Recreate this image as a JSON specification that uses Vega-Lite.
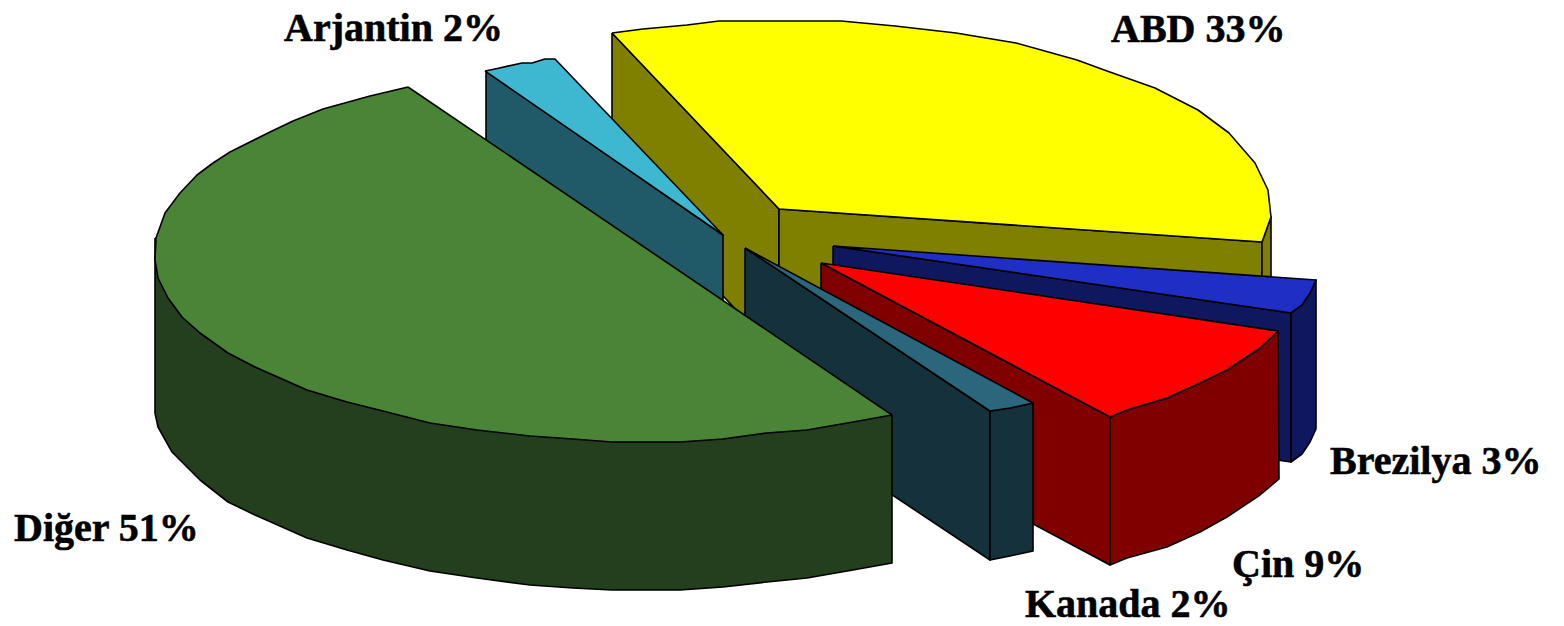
{"$schema":"https://vega.github.io/schema/vega-lite/v6.json","width":1564,"height":626,"padding":0,"autosize":{"type":"none"},"background":"white","view":{"stroke":null},
"datasets":{"faces":[
{"f":"ABD sol","i":1,"x":612,"y":33},{"f":"ABD sol","i":2,"x":779,"y":209},{"f":"ABD sol","i":3,"x":779,"y":355},{"f":"ABD sol","i":4,"x":612,"y":179},{"f":"ABD sol","i":5,"x":612,"y":33},
{"f":"ABD ön","i":1,"x":779,"y":209},{"f":"ABD ön","i":2,"x":1262,"y":242},{"f":"ABD ön","i":3,"x":1262,"y":388},{"f":"ABD ön","i":4,"x":779,"y":355},{"f":"ABD ön","i":5,"x":779,"y":209},
{"f":"ABD sağ","i":1,"x":1262,"y":242},{"f":"ABD sağ","i":2,"x":1271,"y":217},{"f":"ABD sağ","i":3,"x":1271,"y":363},{"f":"ABD sağ","i":4,"x":1262,"y":388},{"f":"ABD sağ","i":5,"x":1262,"y":242},
{"f":"ABD üst","i":1,"x":612,"y":33},{"f":"ABD üst","i":2,"x":643,"y":29},{"f":"ABD üst","i":3,"x":687,"y":25},{"f":"ABD üst","i":4,"x":719,"y":21},{"f":"ABD üst","i":5,"x":841,"y":21},{"f":"ABD üst","i":6,"x":895,"y":26},{"f":"ABD üst","i":7,"x":956,"y":33},{"f":"ABD üst","i":8,"x":1016,"y":43},{"f":"ABD üst","i":9,"x":1077,"y":60},{"f":"ABD üst","i":10,"x":1107,"y":71},{"f":"ABD üst","i":11,"x":1155,"y":88},{"f":"ABD üst","i":12,"x":1198,"y":110},{"f":"ABD üst","i":13,"x":1229,"y":133},{"f":"ABD üst","i":14,"x":1255,"y":163},{"f":"ABD üst","i":15,"x":1268,"y":190},{"f":"ABD üst","i":16,"x":1271,"y":217},{"f":"ABD üst","i":17,"x":1262,"y":242},{"f":"ABD üst","i":18,"x":779,"y":209},{"f":"ABD üst","i":19,"x":612,"y":33},
{"f":"Brezilya sol","i":1,"x":833,"y":246},{"f":"Brezilya sol","i":2,"x":1291,"y":313},{"f":"Brezilya sol","i":3,"x":1291,"y":462},{"f":"Brezilya sol","i":4,"x":833,"y":395},{"f":"Brezilya sol","i":5,"x":833,"y":246},
{"f":"Brezilya sağ","i":1,"x":1291,"y":313},{"f":"Brezilya sağ","i":2,"x":1302,"y":305},{"f":"Brezilya sağ","i":3,"x":1310,"y":293},{"f":"Brezilya sağ","i":4,"x":1316,"y":280},{"f":"Brezilya sağ","i":5,"x":1316,"y":429},{"f":"Brezilya sağ","i":6,"x":1310,"y":442},{"f":"Brezilya sağ","i":7,"x":1302,"y":454},{"f":"Brezilya sağ","i":8,"x":1291,"y":462},{"f":"Brezilya sağ","i":9,"x":1291,"y":313},
{"f":"Brezilya üst","i":1,"x":833,"y":246},{"f":"Brezilya üst","i":2,"x":1316,"y":280},{"f":"Brezilya üst","i":3,"x":1310,"y":293},{"f":"Brezilya üst","i":4,"x":1302,"y":305},{"f":"Brezilya üst","i":5,"x":1291,"y":313},{"f":"Brezilya üst","i":6,"x":833,"y":246},
{"f":"Çin sol","i":1,"x":821,"y":263},{"f":"Çin sol","i":2,"x":1110,"y":417},{"f":"Çin sol","i":3,"x":1110,"y":565},{"f":"Çin sol","i":4,"x":821,"y":411},{"f":"Çin sol","i":5,"x":821,"y":263},
{"f":"Çin ön","i":1,"x":1110,"y":417},{"f":"Çin ön","i":2,"x":1127,"y":410},{"f":"Çin ön","i":3,"x":1167,"y":398},{"f":"Çin ön","i":4,"x":1200,"y":383},{"f":"Çin ön","i":5,"x":1227,"y":370},{"f":"Çin ön","i":6,"x":1260,"y":348},{"f":"Çin ön","i":7,"x":1278,"y":331},{"f":"Çin ön","i":8,"x":1279,"y":479},{"f":"Çin ön","i":9,"x":1260,"y":495},{"f":"Çin ön","i":10,"x":1227,"y":517},{"f":"Çin ön","i":11,"x":1200,"y":532},{"f":"Çin ön","i":12,"x":1167,"y":547},{"f":"Çin ön","i":13,"x":1127,"y":558},{"f":"Çin ön","i":14,"x":1110,"y":565},{"f":"Çin ön","i":15,"x":1110,"y":417},
{"f":"Çin üst","i":1,"x":821,"y":263},{"f":"Çin üst","i":2,"x":1278,"y":331},{"f":"Çin üst","i":3,"x":1260,"y":348},{"f":"Çin üst","i":4,"x":1227,"y":370},{"f":"Çin üst","i":5,"x":1200,"y":383},{"f":"Çin üst","i":6,"x":1167,"y":398},{"f":"Çin üst","i":7,"x":1127,"y":410},{"f":"Çin üst","i":8,"x":1110,"y":417},{"f":"Çin üst","i":9,"x":821,"y":263},
{"f":"Kanada sol","i":1,"x":745,"y":248},{"f":"Kanada sol","i":2,"x":990,"y":411},{"f":"Kanada sol","i":3,"x":990,"y":560},{"f":"Kanada sol","i":4,"x":745,"y":397},{"f":"Kanada sol","i":5,"x":745,"y":248},
{"f":"Kanada sağ","i":1,"x":990,"y":411},{"f":"Kanada sağ","i":2,"x":1010,"y":408},{"f":"Kanada sağ","i":3,"x":1033,"y":403},{"f":"Kanada sağ","i":4,"x":1033,"y":551},{"f":"Kanada sağ","i":5,"x":1010,"y":556},{"f":"Kanada sağ","i":6,"x":990,"y":560},{"f":"Kanada sağ","i":7,"x":990,"y":411},
{"f":"Kanada üst","i":1,"x":745,"y":248},{"f":"Kanada üst","i":2,"x":1033,"y":403},{"f":"Kanada üst","i":3,"x":1010,"y":408},{"f":"Kanada üst","i":4,"x":990,"y":411},{"f":"Kanada üst","i":5,"x":745,"y":248},
{"f":"Arjantin yan","i":1,"x":486,"y":71},{"f":"Arjantin yan","i":2,"x":723,"y":235},{"f":"Arjantin yan","i":3,"x":723,"y":381},{"f":"Arjantin yan","i":4,"x":486,"y":217},{"f":"Arjantin yan","i":5,"x":486,"y":71},
{"f":"Arjantin üst","i":1,"x":485,"y":71},{"f":"Arjantin üst","i":2,"x":495,"y":69},{"f":"Arjantin üst","i":3,"x":522,"y":63},{"f":"Arjantin üst","i":4,"x":532,"y":63},{"f":"Arjantin üst","i":5,"x":545,"y":59},{"f":"Arjantin üst","i":6,"x":555,"y":59},{"f":"Arjantin üst","i":7,"x":723,"y":235},{"f":"Arjantin üst","i":8,"x":485,"y":71},
{"f":"Diğer yan","i":1,"x":155,"y":238},{"f":"Diğer yan","i":2,"x":892,"y":415},{"f":"Diğer yan","i":3,"x":892,"y":563},{"f":"Diğer yan","i":4,"x":853,"y":570},{"f":"Diğer yan","i":5,"x":807,"y":578},{"f":"Diğer yan","i":6,"x":767,"y":582},{"f":"Diğer yan","i":7,"x":723,"y":587},{"f":"Diğer yan","i":8,"x":680,"y":590},{"f":"Diğer yan","i":9,"x":612,"y":590},{"f":"Diğer yan","i":10,"x":573,"y":588},{"f":"Diğer yan","i":11,"x":530,"y":585},{"f":"Diğer yan","i":12,"x":477,"y":578},{"f":"Diğer yan","i":13,"x":430,"y":571},{"f":"Diğer yan","i":14,"x":383,"y":560},{"f":"Diğer yan","i":15,"x":347,"y":550},{"f":"Diğer yan","i":16,"x":307,"y":538},{"f":"Diğer yan","i":17,"x":255,"y":515},{"f":"Diğer yan","i":18,"x":228,"y":502},{"f":"Diğer yan","i":19,"x":200,"y":480},{"f":"Diğer yan","i":20,"x":172,"y":452},{"f":"Diğer yan","i":21,"x":158,"y":427},{"f":"Diğer yan","i":22,"x":155,"y":413},{"f":"Diğer yan","i":23,"x":155,"y":238},
{"f":"Diğer üst","i":1,"x":408,"y":87},{"f":"Diğer üst","i":2,"x":370,"y":96},{"f":"Diğer üst","i":3,"x":323,"y":109},{"f":"Diğer üst","i":4,"x":293,"y":121},{"f":"Diğer üst","i":5,"x":270,"y":132},{"f":"Diğer üst","i":6,"x":230,"y":152},{"f":"Diğer üst","i":7,"x":213,"y":163},{"f":"Diğer üst","i":8,"x":197,"y":175},{"f":"Diğer üst","i":9,"x":180,"y":193},{"f":"Diğer üst","i":10,"x":165,"y":213},{"f":"Diğer üst","i":11,"x":156,"y":238},{"f":"Diğer üst","i":12,"x":155,"y":260},{"f":"Diğer üst","i":13,"x":158,"y":278},{"f":"Diğer üst","i":14,"x":168,"y":298},{"f":"Diğer üst","i":15,"x":182,"y":317},{"f":"Diğer üst","i":16,"x":200,"y":333},{"f":"Diğer üst","i":17,"x":228,"y":353},{"f":"Diğer üst","i":18,"x":255,"y":367},{"f":"Diğer üst","i":19,"x":307,"y":390},{"f":"Diğer üst","i":20,"x":347,"y":402},{"f":"Diğer üst","i":21,"x":383,"y":411},{"f":"Diğer üst","i":22,"x":430,"y":423},{"f":"Diğer üst","i":23,"x":477,"y":430},{"f":"Diğer üst","i":24,"x":530,"y":436},{"f":"Diğer üst","i":25,"x":573,"y":439},{"f":"Diğer üst","i":26,"x":612,"y":442},{"f":"Diğer üst","i":27,"x":680,"y":442},{"f":"Diğer üst","i":28,"x":723,"y":439},{"f":"Diğer üst","i":29,"x":767,"y":433},{"f":"Diğer üst","i":30,"x":807,"y":430},{"f":"Diğer üst","i":31,"x":853,"y":422},{"f":"Diğer üst","i":32,"x":892,"y":415},{"f":"Diğer üst","i":33,"x":408,"y":87}
],
"labels":[
{"label":"ABD 33%","x":1111,"y":42},{"label":"Arjantin 2%","x":284,"y":41},{"label":"Brezilya 3%","x":1330,"y":474},{"label":"Çin 9%","x":1232,"y":577},{"label":"Kanada 2%","x":1025,"y":617},{"label":"Diğer 51%","x":14,"y":541}
]},
"layer":[
{"data":{"name":"faces"},"mark":{"type":"line","stroke":"black","strokeWidth":1.6,"strokeJoin":"round","clip":false},
"encoding":{
"x":{"field":"x","type":"quantitative","axis":null,"scale":{"domain":[0,1564],"nice":false,"zero":false}},
"y":{"field":"y","type":"quantitative","axis":null,"scale":{"domain":[626,0],"nice":false,"zero":false}},
"order":{"field":"i","type":"quantitative"},
"fill":{"field":"f","type":"nominal","legend":null,"scale":{
"domain":["ABD sol","ABD ön","ABD sağ","ABD üst","Brezilya sol","Brezilya sağ","Brezilya üst","Çin sol","Çin ön","Çin üst","Kanada sol","Kanada sağ","Kanada üst","Arjantin yan","Arjantin üst","Diğer yan","Diğer üst"],
"range":["#808000","#808000","#808000","#ffff00","#0f175f","#0f175f","#1f2ec4","#800000","#800000","#ff0000","#15323c","#15323c","#2a677c","#205a69","#3eb7d0","#243f1d","#4a8437"]}}
}},
{"data":{"name":"labels"},"mark":{"type":"text","font":"Liberation Serif","fontWeight":"bold","fontSize":40,"align":"left","baseline":"alphabetic","color":"black","stroke":"black","strokeWidth":0.6},
"encoding":{
"x":{"field":"x","type":"quantitative","axis":null,"scale":{"domain":[0,1564],"nice":false,"zero":false}},
"y":{"field":"y","type":"quantitative","axis":null,"scale":{"domain":[626,0],"nice":false,"zero":false}},
"text":{"field":"label","type":"nominal"}
}}
]}
